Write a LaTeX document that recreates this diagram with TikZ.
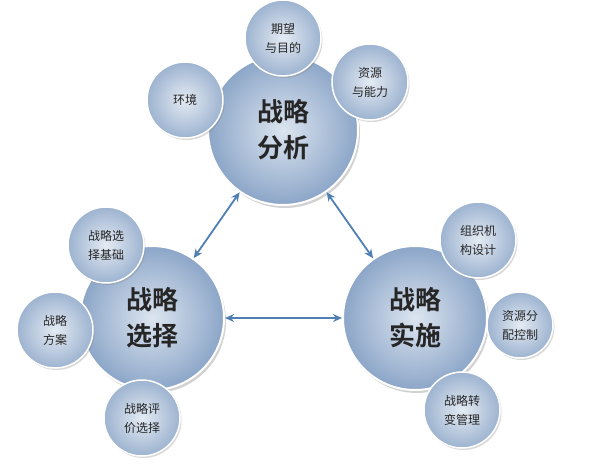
\documentclass[tikz,border=0pt]{standalone}
\usepackage{fontspec}
\newfontfamily\cjk{Noto Sans CJK SC}
\newfontfamily\cjkb{Noto Sans CJK SC Bold}
\usetikzlibrary{arrows.meta,shadows}
\definecolor{cin}{HTML}{DCE5F0}
\definecolor{cout}{HTML}{8CA6C8}
\definecolor{sin}{HTML}{E4EBF3}
\definecolor{sout}{HTML}{9DB3D0}
\definecolor{arr}{HTML}{4F7FB5}
\begin{document}
\begin{tikzpicture}[x=1pt,y=-1pt,
 big/.style={circle,minimum size=#1,inner sep=0pt,draw=white,line width=2pt,
   inner color=cin,outer color=cout,
   drop shadow={opacity=0.35,shadow xshift=2pt,shadow yshift=-3pt},
   align=center,text=black!85,font=\cjkb\fontsize{26}{36}\selectfont},
 sat/.style={circle,minimum size=#1,inner sep=0pt,draw=white,line width=1.5pt,
   inner color=sin,outer color=sout,
   drop shadow={opacity=0.3,shadow xshift=1.5pt,shadow yshift=-2pt},
   align=center,text=black!85,font=\cjk\fontsize{12}{19}\selectfont},
 link/.style={{Stealth[length=9pt,width=8pt]}-{Stealth[length=9pt,width=8pt]},line width=1.8pt,draw=arr}]
\useasboundingbox[fill=white] (0,0) rectangle (600,467);
\node[big=150pt] (A) at (283,130) {战略\\分析};
\node[big=144pt] (B) at (152,318) {战略\\选择};
\node[big=144pt] (C) at (415,318) {战略\\实施};
\node[sat=76pt] (a1) at (185,100) {环境};
\node[sat=76pt] (a2) at (283,38) {期望\\与目的};
\node[sat=76pt] (a3) at (370,82) {资源\\与能力};
\node[sat=76pt] (b1) at (106,245) {战略选\\择基础};
\node[sat=76pt] (b2) at (55,330) {战略\\方案};
\node[sat=76pt] (b3) at (142,418) {战略评\\价选择};
\node[sat=76pt] (c1) at (478,240) {组织机\\构设计};
\node[sat=66pt] (c2) at (520,325) {资源分\\配控制};
\node[sat=76pt] (c3) at (462,410) {战略转\\变管理};
\draw[link] (A) -- (B);
\draw[link] (A) -- (C);
\draw[link] (B) -- (C);
\end{tikzpicture}
\end{document}
